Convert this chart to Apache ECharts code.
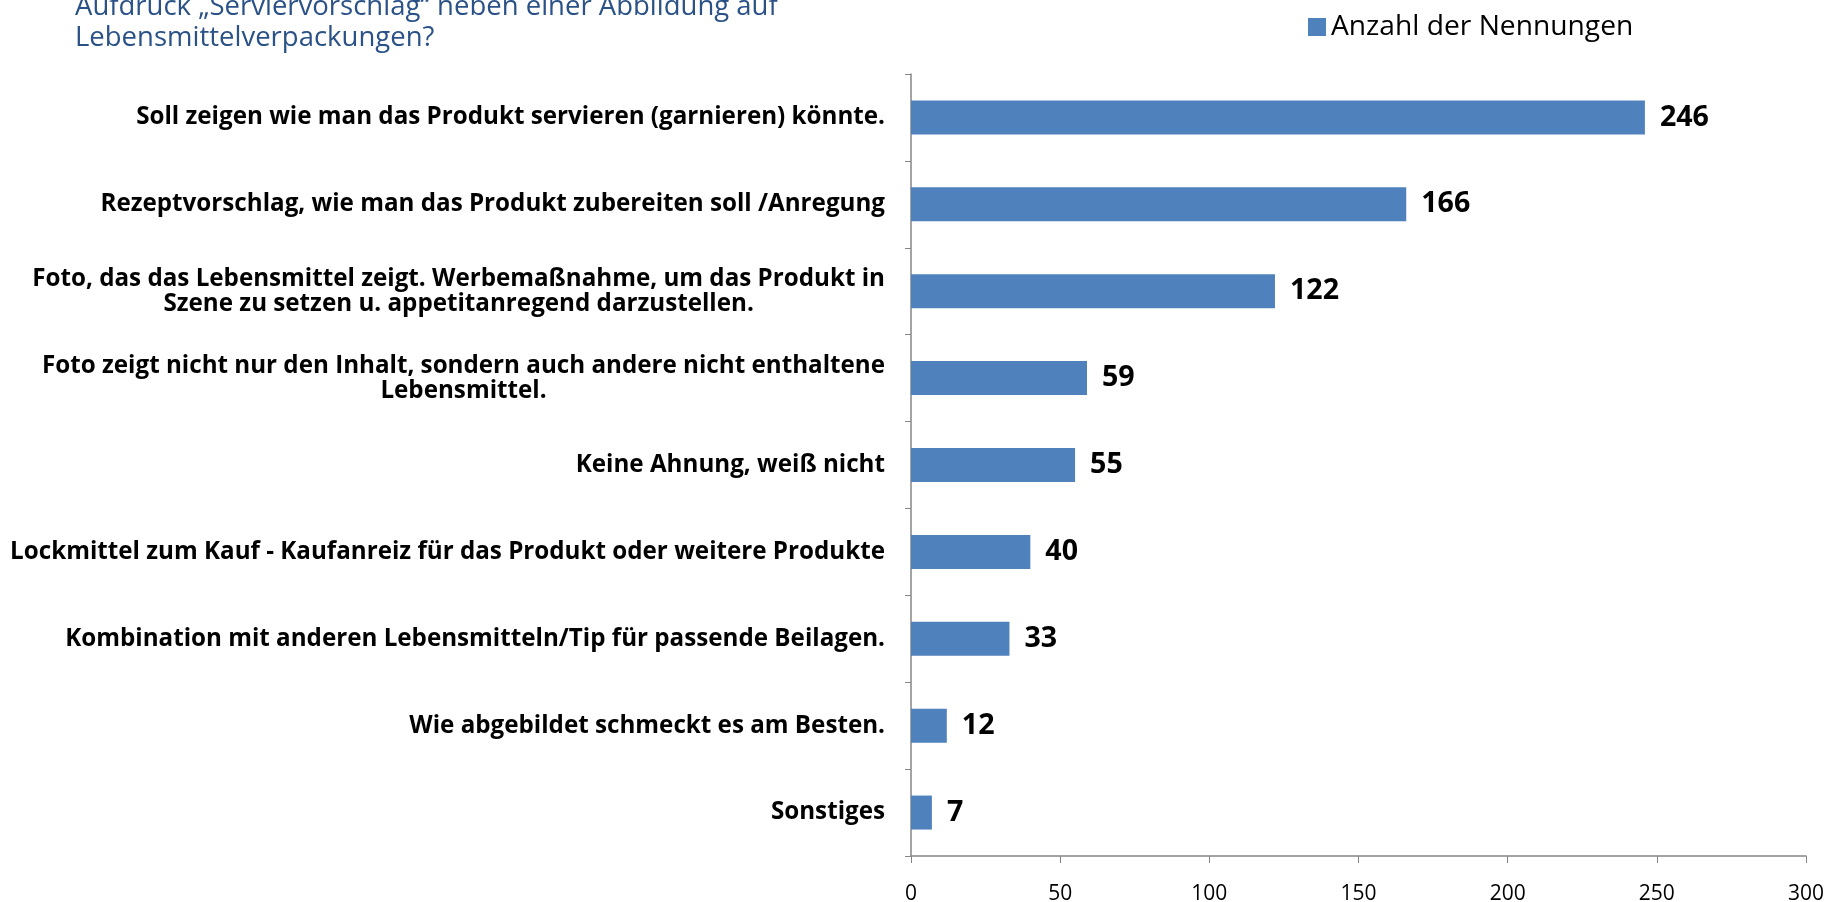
<!DOCTYPE html>
<html><head><meta charset="utf-8">
<script src="https://cdn.jsdelivr.net/npm/echarts@6/dist/echarts.min.js"></script>
<style>html,body{margin:0;padding:0;background:#fff}#c{width:1833px;height:902px}</style>
</head><body><div id="c"></div>
<script>
const categories = [
  "Soll zeigen wie man das Produkt servieren (garnieren) könnte.",
  "Rezeptvorschlag, wie man das Produkt zubereiten soll /Anregung",
  "Foto, das das Lebensmittel zeigt. Werbemaßnahme, um das Produkt in\nSzene zu setzen u. appetitanregend darzustellen.",
  "Foto zeigt nicht nur den Inhalt, sondern auch andere nicht enthaltene\nLebensmittel.",
  "Keine Ahnung, weiß nicht",
  "Lockmittel zum Kauf - Kaufanreiz für das Produkt oder weitere Produkte",
  "Kombination mit anderen Lebensmitteln/Tip für passende Beilagen.",
  "Wie abgebildet schmeckt es am Besten.",
  "Sonstiges"
];
const values = [246, 166, 122, 59, 55, 40, 33, 12, 7];
const seriesName = "Anzahl der Nennungen";
const titleText = "Aufdruck „Serviervorschlag“ neben einer Abbildung auf\nLebensmittelverpackungen?";

const FONT = "Open Sans";
const ctx = document.createElement('canvas').getContext('2d');
function fit(text, weight, target) {
  ctx.font = weight + ' 100px "' + FONT + '"';
  return Math.round(100 * target / ctx.measureText(text).width * 10) / 10;
}
const labelSize = fit("Lockmittel zum Kauf - Kaufanreiz für das Produkt oder weitere Produkte", 'bold', 874);
const valueSize = fit("246", 'bold', 49);
const tickSize = fit("300", 'normal', 36);
const legendSize = fit(seriesName, 'normal', 302);
const titleSize = fit("Lebensmittelverpackungen?", 'normal', 360);

// centre the lines of wrapped labels: each line right-aligned with half the width difference as right padding
ctx.font = 'bold ' + labelSize + 'px "' + FONT + '"';
const rich = {};
categories.forEach((c, k) => {
  const ls = c.split('\n');
  if (ls.length < 2) return;
  const ws = ls.map(l => ctx.measureText(l).width);
  const m = Math.max(...ws);
  ls.forEach((l, i) => {
    rich['r' + k + '_' + i] = { align: 'right', padding: [0, (m - ws[i]) / 2, 0, 0], color: '#000',
      fontFamily: FONT, fontWeight: 'bold', fontSize: labelSize, lineHeight: 25 };
  });
});
function fmt(v, k) {
  const lines = v.split('\n');
  if (lines.length === 1) return v;
  return lines.map((l, i) => '{r' + k + '_' + i + '|' + l + '}').join('\n');
}
const chart = echarts.init(document.getElementById('c'));
chart.setOption({
  animation: false,
  backgroundColor: '#fff',
  title: {
    text: titleText, left: 70, top: -13,
    textStyle: { color: '#2B5287', fontFamily: FONT, fontWeight: 'normal', fontSize: titleSize, lineHeight: 31 }
  },
  legend: {
    data: [seriesName], left: 1303, top: 8, itemWidth: 18, itemHeight: 18, itemGap: 6,
    icon: 'rect',
    textStyle: { color: '#000', fontFamily: FONT, fontSize: legendSize }
  },
  grid: { left: 911, right: 27, top: 74, bottom: 46, containLabel: false, outerBoundsMode: 'none' },
  xAxis: {
    type: 'value', min: 0, max: 300, interval: 50,
    axisLine: { show: true, lineStyle: { color: '#868686', width: 1.5 } },
    axisTick: { show: true, length: 7, lineStyle: { color: '#868686' } },
    splitLine: { show: false },
    axisLabel: { color: '#000', fontFamily: FONT, fontSize: tickSize, margin: 28 }
  },
  yAxis: {
    type: 'category', inverse: true, data: categories,
    axisLine: { show: true, lineStyle: { color: '#868686', width: 1.5 } },
    axisTick: { show: true, length: 6, lineStyle: { color: '#868686' } },
    axisLabel: {
      color: '#000', fontFamily: FONT, fontWeight: 'bold', fontSize: labelSize, margin: 26,
      lineHeight: 25, align: 'right', formatter: fmt, rich: rich
    }
  },
  series: [{
    name: seriesName, type: 'bar', data: values, barWidth: 34,
    itemStyle: { color: '#4F81BD' },
    label: { show: true, position: 'right', distance: 15, color: '#000', fontFamily: FONT, fontWeight: 'bold', fontSize: valueSize }
  }]
});
</script></body></html>
